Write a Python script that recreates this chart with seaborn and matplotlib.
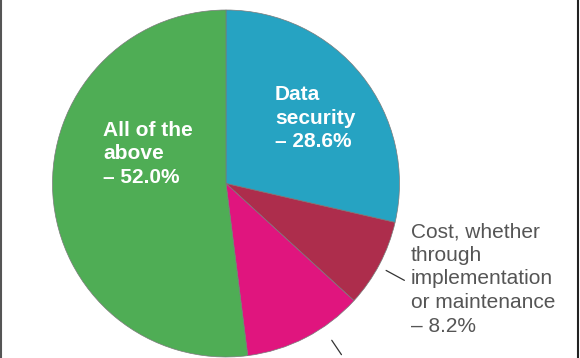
import matplotlib
matplotlib.use("Agg")
import matplotlib.pyplot as plt
from matplotlib.lines import Line2D
import numpy as np
import seaborn as sns

# slice data (clockwise from 12 o'clock)
categories = ["Data security", "Cost, whether through implementation or maintenance",
              "Other", "All of the above"]
shares = [28.6, 8.2, 11.2, 52.0]
colors = ["#26A3C2", "#AD2D4C", "#E0157E", "#4FAD55"]

sns.set_theme(style="white")
plt.rcParams["font.family"] = ["Liberation Sans", "DejaVu Sans"]

W, H = 580, 358
fig = plt.figure(figsize=(W / 100, H / 100), dpi=100)
ax = fig.add_axes([0, 0, 1, 1])

cx, cy, r = 226, H - 183.5, 173.5
wedges, _ = ax.pie(shares, colors=colors, startangle=90, counterclock=False,
                   center=(cx, cy), radius=r, frame=True,
                   wedgeprops=dict(edgecolor="#7a7a7a", linewidth=0.5))
ax.set_xlim(0, W)
ax.set_ylim(0, H)
ax.set_aspect("equal")
ax.axis("off")

# inner labels (white, bold)
ax.text(275, H - 85, "Data\nsecurity\n– 28.6%", color="white", fontsize=15,
        fontweight="bold", ha="left", va="top", linespacing=1.31)
ax.text(103, H - 120.5, "All of the\nabove\n– 52.0%", color="white", fontsize=15,
        fontweight="bold", ha="left", va="top", linespacing=1.31)

# outer label with leader line
ax.text(411, H - 222.5, "Cost, whether\nthrough\nimplementation\nor maintenance\n– 8.2%",
        color="#555555", fontsize=15, ha="left", va="top", linespacing=1.3)


def leader(angle_deg, r0, r1):
    a = np.deg2rad(angle_deg)
    xs = [cx + r0 * np.cos(a), cx + r1 * np.cos(a)]
    ys = [cy + r0 * np.sin(a), cy + r1 * np.sin(a)]
    ax.plot(xs, ys, color="#333333", linewidth=0.9, clip_on=False)


leader(-28.5, 1.05 * r, 1.17 * r)
leader(-56.0, 1.09 * r, 1.19 * r)

# frame edges
fig.add_artist(Line2D([0.0015, 0.0015], [0, 1], color="#555555", linewidth=1.5,
                      transform=fig.transFigure))
fig.add_artist(Line2D([0.9965, 0.9965], [0, 1], color="#222222", linewidth=1.5,
                      transform=fig.transFigure))

fig.savefig("out.png", dpi=100)
